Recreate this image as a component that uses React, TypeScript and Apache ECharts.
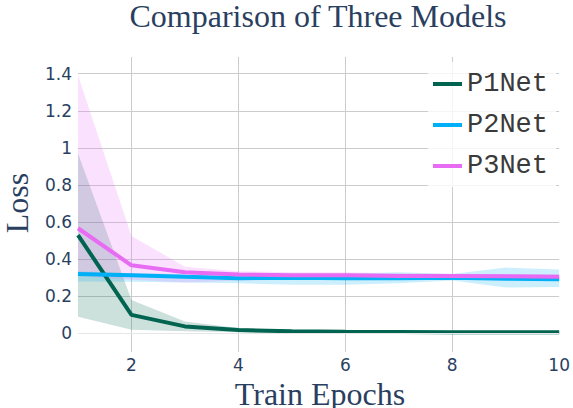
import React, { useEffect, useRef } from "react";
import * as echarts from "echarts";

const epochs = [1, 2, 3, 4, 5, 6, 7, 8, 9, 10];

const p1Mean = [0.53, 0.1, 0.038, 0.018, 0.012, 0.009, 0.008, 0.007, 0.006, 0.006];
const p1Upper = [0.97, 0.18, 0.065, 0.03, 0.018, 0.013, 0.011, 0.01, 0.009, 0.009];
const p1Lower = [0.09, 0.02, 0.012, 0.006, 0.005, 0.004, 0.004, 0.004, 0.003, 0.003];

const p2Mean = [0.32, 0.313, 0.305, 0.298, 0.3, 0.298, 0.298, 0.3, 0.295, 0.292];
const p2Upper = [0.335, 0.325, 0.32, 0.315, 0.318, 0.322, 0.33, 0.32, 0.355, 0.345];
const p2Lower = [0.28, 0.278, 0.275, 0.27, 0.262, 0.262, 0.27, 0.285, 0.247, 0.25];

const p3Mean = [0.567, 0.367, 0.33, 0.318, 0.313, 0.313, 0.31, 0.31, 0.308, 0.305];
const p3Upper = [1.39, 0.525, 0.36, 0.335, 0.33, 0.33, 0.325, 0.322, 0.32, 0.318];
const p3Lower = [0.31, 0.29, 0.275, 0.285, 0.29, 0.295, 0.298, 0.3, 0.298, 0.295];

const seriesNames = ["P1Net", "P2Net", "P3Net"];
const titleText = "Comparison of Three Models";
const xTitle = "Train Epochs";
const yTitle = "Loss";

const lineColors = ["rgb(0,100,80)", "rgb(0,176,246)", "rgb(231,107,243)"];
const bandColors = ["rgba(0,100,80,0.2)", "rgba(0,176,246,0.2)", "rgba(231,107,243,0.2)"];

const TEXT = "#2a3f5f";
const GRID = "#cccccc";

function bandSeries(name: string, upper: number[], lower: number[], color: string) {
  return {
    name,
    type: "custom",
    silent: true,
    z: 1,
    data: [[epochs[0], lower[0]]],
    renderItem: (_params: any, api: any) => {
      const pts: number[][] = [];
      for (let i = 0; i < epochs.length; i++) pts.push(api.coord([epochs[i], upper[i]]));
      for (let i = epochs.length - 1; i >= 0; i--) pts.push(api.coord([epochs[i], lower[i]]));
      return {
        type: "polygon",
        shape: { points: pts },
        style: { fill: color, stroke: "none" },
      };
    },
  };
}

function lineSeries(name: string, values: number[], color: string, z: number, extra: any = {}) {
  return {
    name,
    type: "line",
    data: epochs.map((e, i) => [e, values[i]]),
    showSymbol: false,
    symbol: "none",
    z,
    lineStyle: { width: 4, color },
    itemStyle: { color },
    ...extra,
  };
}

export default function App() {
  const ref = useRef<HTMLDivElement>(null);
  useEffect(() => {
    if (!ref.current) return;
    document.body.style.margin = "0";
    const chart = echarts.init(ref.current, undefined, { renderer: "svg" });
    chart.setOption({
      animation: false,
      backgroundColor: "#ffffff",
      grid: { left: 78, right: 12, top: 57, bottom: 56, containLabel: false },
      xAxis: {
        type: "value",
        min: 1,
        max: 10,
        splitNumber: 5,
        minInterval: 2,
        maxInterval: 2,
        axisLine: { show: false },
        axisTick: { show: false },
        axisLabel: {
          showMinLabel: false,
          showMaxLabel: true,
          color: TEXT,
          fontFamily: "DejaVu Sans",
          fontSize: 17,
          margin: 4,
        },
        splitLine: { show: true, showMinLine: false, showMaxLine: false, lineStyle: { color: GRID, width: 1 } },
      },
      yAxis: {
        type: "value",
        min: -0.1,
        max: 1.49,
        splitNumber: 8,
        minInterval: 0.2,
        maxInterval: 0.2,
        axisLine: { show: false },
        axisTick: { show: false },
        axisLabel: {
          showMinLabel: false,
          showMaxLabel: false,
          color: TEXT,
          fontFamily: "DejaVu Sans",
          fontSize: 17,
          margin: 6,
        },
        splitLine: { show: true, showMinLine: false, showMaxLine: false, lineStyle: { color: GRID, width: 1 } },
      },
      legend: {
        orient: "vertical",
        left: 428,
        top: 62,
        padding: [7, 8, 6, 5],
        itemWidth: 29,
        itemHeight: 4,
        itemGap: 11,
        backgroundColor: "rgba(255,255,255,0.8)",
        data: seriesNames.map((n) => ({ name: n, icon: "rect" })),
        textStyle: {
          fontFamily: "Liberation Mono",
          fontSize: 27,
          lineHeight: 30,
          color: "#3a3a3a",
        },
      },
      graphic: [
        {
          type: "text",
          x: 318,
          y: 16,
          style: {
            text: titleText,
            fontFamily: "Liberation Serif",
            fontSize: 32,
            lineHeight: 30,
            fill: TEXT,
            align: "center",
            verticalAlign: "middle",
          },
        },
        {
          type: "text",
          x: 320,
          y: 394,
          style: {
            text: xTitle,
            fontFamily: "Liberation Serif",
            fontSize: 32,
            lineHeight: 26,
            fill: TEXT,
            align: "center",
            verticalAlign: "middle",
          },
        },
        {
          type: "text",
          x: 17,
          y: 203,
          rotation: Math.PI / 2,
          style: {
            text: yTitle,
            fontFamily: "Liberation Serif",
            fontSize: 32,
            lineHeight: 30,
            fill: TEXT,
            align: "center",
            verticalAlign: "middle",
          },
        },
      ],
      series: [
        bandSeries("P1Net band", p1Upper, p1Lower, bandColors[0]),
        bandSeries("P2Net band", p2Upper, p2Lower, bandColors[1]),
        bandSeries("P3Net band", p3Upper, p3Lower, bandColors[2]),
        lineSeries(seriesNames[0], p1Mean, lineColors[0], 3, {
          markLine: {
            silent: true,
            symbol: ["none", "none"],
            label: { show: false },
            lineStyle: { color: "#e6e6e6", type: "solid", width: 1 },
            data: [{ yAxis: 0 }],
          },
        }),
        lineSeries(seriesNames[1], p2Mean, lineColors[1], 4),
        lineSeries(seriesNames[2], p3Mean, lineColors[2], 5),
      ],
    });
    return () => chart.dispose();
  }, []);
  return <div ref={ref} style={{ width: 573, height: 408 }} />;
}
